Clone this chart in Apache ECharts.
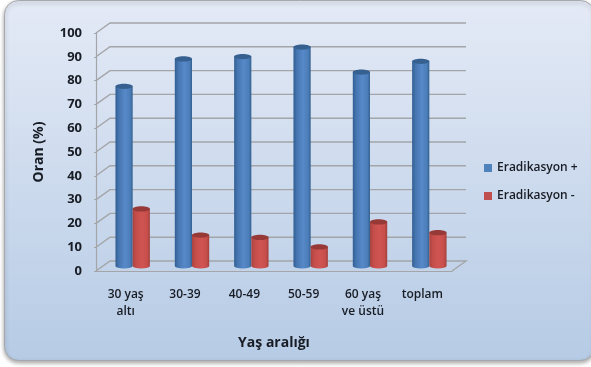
<!DOCTYPE html>
<html>
<head>
<meta charset="utf-8">
<style>html,body{margin:0;padding:0;background:#fff}#chart{width:591px;height:367px}</style>
<script src="https://cdn.jsdelivr.net/npm/echarts@6/dist/echarts.min.js"></script>
</head>
<body>
<div id="chart"></div>
<script>
const categories = ['30 yaş\naltı', '30-39', '40-49', '50-59', '60 yaş\nve üstü', 'toplam'];
const eradikasyonPlus = [75.5, 87, 88, 92, 81.5, 86];
const eradikasyonMinus = [24, 13, 12, 8, 18.5, 14];
const gridTicks = [0, 10, 20, 30, 40, 50, 60, 70, 80, 90, 100];

const FONT = '"Open Sans", sans-serif';
const TEXT = '#181c24';
const LINE = '#a3a5a8';
// Oblique offset of the rear wall from the front plane of the plot
const DEPTH = [14, -10];

function shade(stops) {
  return {
    type: 'linear', x: 0, y: 0, x2: 1, y2: 0,
    colorStops: stops.map((c, i) => ({ offset: [0, 0.2, 0.55, 0.85, 1][i], color: c }))
  };
}

// Cylinder standing mid-way through the depth of the floor
function cylinder(side, body, cap) {
  return function (params, api) {
    const band = api.size([1, 0])[0];
    const w = band * 0.29;
    const ry = 2.6;
    const top = api.coord([api.value(0), api.value(1)]);
    const base = api.coord([api.value(0), 0]);
    const left = top[0] + DEPTH[0] / 2 + (side < 0 ? -w : 0);
    const yTop = top[1] + DEPTH[1] / 2;
    const yBase = base[1] + DEPTH[1] / 2;
    const rx = w / 2;
    return {
      type: 'group',
      children: [
        {
          type: 'path',
          shape: {
            pathData: `M0 0L0 ${yBase - yTop}A${rx} ${ry} 0 0 0 ${w} ${yBase - yTop}L${w} 0Z`,
            x: left, y: yTop, width: w, height: yBase - yTop + ry
          },
          style: { fill: shade(body) }
        },
        {
          type: 'ellipse',
          shape: { cx: left + rx, cy: yTop, rx: rx, ry: ry },
          style: { fill: cap }
        }
      ]
    };
  };
}

const chart = echarts.init(document.getElementById('chart'), null, { renderer: 'canvas' });
chart.setOption({
  animation: false,
  textStyle: { fontFamily: FONT },
  graphic: [{
    type: 'rect',
    z: -10,
    silent: true,
    shape: { x: 4.5, y: 0.5, width: 590, height: 360, r: 14 },
    style: {
      fill: {
        type: 'linear', x: 0, y: 0, x2: 0, y2: 1,
        colorStops: [{ offset: 0, color: '#e4eaf6' }, { offset: 1, color: '#b6cbe5' }]
      },
      stroke: '#a6a8ab',
      lineWidth: 1,
      shadowColor: 'rgba(0,0,0,0.35)',
      shadowBlur: 4,
      shadowOffsetY: 2
    }
  }],
  legend: {
    orient: 'vertical',
    left: 479,
    top: 157,
    itemWidth: 8,
    itemHeight: 8,
    itemGap: 16,
    icon: 'rect',
    data: ['Eradikasyon +', 'Eradikasyon -'],
    textStyle: { fontFamily: FONT, fontSize: 12, fontWeight: 600, color: TEXT }
  },
  grid: { left: 96, top: 33, width: 356, height: 238 },
  xAxis: {
    type: 'category',
    data: categories,
    name: 'Yaş aralığı',
    nameLocation: 'middle',
    nameGap: 65,
    nameTextStyle: { fontFamily: FONT, fontSize: 14, fontWeight: 'bold', color: TEXT },
    axisLine: { lineStyle: { color: LINE, width: 1.2 } },
    axisTick: { alignWithLabel: false, length: 4, lineStyle: { color: LINE } },
    axisLabel: { interval: 0, margin: 15, fontFamily: FONT, fontSize: 12, fontWeight: 600, lineHeight: 17, color: TEXT },
    splitLine: { show: false }
  },
  yAxis: {
    type: 'value',
    min: 0,
    max: 100,
    interval: 10,
    name: 'Oran (%)',
    nameLocation: 'middle',
    nameGap: 50,
    nameTextStyle: { fontFamily: FONT, fontSize: 14, fontWeight: 'bold', color: TEXT },
    axisLine: { show: true, lineStyle: { color: LINE, width: 1.2 } },
    axisTick: { show: true, length: 2, lineStyle: { color: LINE } },
    axisLabel: { margin: 14, fontFamily: FONT, fontSize: 13, fontWeight: 'bold', color: TEXT },
    splitLine: { show: false }
  },
  series: [
    {
      // Rear wall gridlines, the oblique side-wall runs, and the floor edge
      type: 'custom',
      name: 'duvar',
      silent: true,
      z: 1,
      data: gridTicks.map(v => [0, v]),
      renderItem(params, api) {
        const y = api.coord([0, api.value(1)])[1];
        const cs = params.coordSys;
        const style = { stroke: LINE, lineWidth: 1.4, fill: null };
        const pts = [[cs.x, y], [cs.x + DEPTH[0], y + DEPTH[1]], [cs.x + cs.width + DEPTH[0], y + DEPTH[1]]];
        if (api.value(1) === 0) pts.push([cs.x + cs.width, y]);
        return { type: 'polyline', shape: { points: pts }, style: style };
      }
    },
    {
      type: 'custom',
      name: 'Eradikasyon +',
      z: 3,
      itemStyle: { color: '#4f81bd' },
      encode: { x: 0, y: 1 },
      data: eradikasyonPlus.map((v, i) => [i, v]),
      renderItem: cylinder(-1, ['#315e93', '#4676b0', '#5788c8', '#4c7eba', '#32608f'], '#35608f')
    },
    {
      type: 'custom',
      name: 'Eradikasyon -',
      z: 4,
      itemStyle: { color: '#c0504d' },
      encode: { x: 0, y: 1 },
      data: eradikasyonMinus.map((v, i) => [i, v]),
      renderItem: cylinder(1, ['#a84340', '#c44d4a', '#d05552', '#c64e4b', '#a03e3b'], '#973936')
    }
  ]
});
</script>
</body>
</html>
